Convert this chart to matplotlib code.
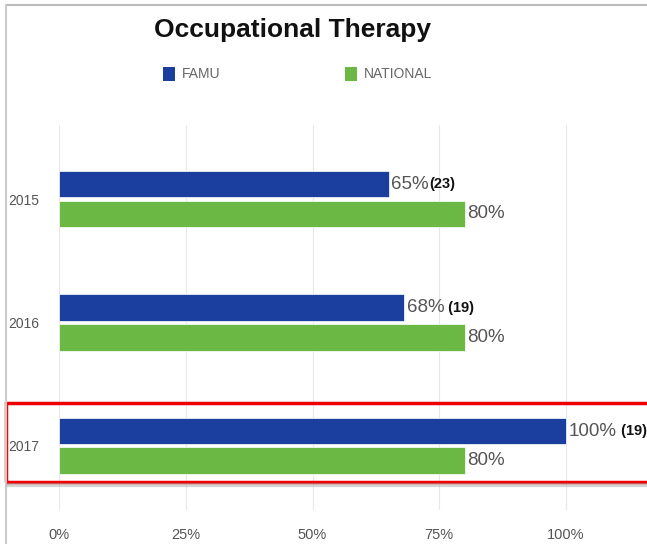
import matplotlib
matplotlib.use('Agg')
import matplotlib.pyplot as plt
from matplotlib.patches import Rectangle
import numpy as np

# data
years = ['2015', '2016', '2017']
famu = [65, 68, 100]
national = [80, 80, 80]
famu_counts = ['(23)', '(19)', '(19)']
xticks = [0, 25, 50, 75, 100]
series = ['FAMU', 'NATIONAL']

blue = '#1b3f9f'
green = '#6bb944'
grey_txt = '#555555'

plt.rcParams['font.family'] = ['Liberation Sans', 'DejaVu Sans']

W, H = 647, 544
fig = plt.figure(figsize=(W / 100, H / 100), dpi=100)

def fx(px):
    return px / W

def fy(py):
    return 1 - py / H

# axes: 0% at x=59, 100% at x=566; plot area from y=125 to y=510
x0, x100 = 59, 566
ax = fig.add_axes([fx(x0), fy(510), 1 - fx(x0), (510 - 125) / H])
xmax = 100 * (W - x0) / (x100 - x0)
ax.set_xlim(0, xmax)
ax.set_ylim(2.52, -0.60)

y = np.arange(len(years))
off = 0.12
bh = 0.215
ax.barh(y - off, famu, height=bh, color=blue, edgecolor='white', linewidth=0.5, zorder=3)
ax.barh(y + off, national, height=bh, color=green, edgecolor='white', linewidth=0.5, zorder=3)

for i in range(len(years)):
    t = ax.annotate(f'{famu[i]}%', (famu[i], y[i] - off), xytext=(2, 0),
                    textcoords='offset points', va='center', ha='left',
                    fontsize=13.5, color=grey_txt)
    ax.annotate(' ' + famu_counts[i] if i > 0 else famu_counts[i],
                xy=(1, 0.5), xycoords=t, va='center', ha='left',
                fontsize=10.5, fontweight='bold', color='#111111')
    ax.annotate(f'{national[i]}%', (national[i], y[i] + off), xytext=(2, 0),
                textcoords='offset points', va='center', ha='left',
                fontsize=13.5, color=grey_txt)

ax.set_xticks(xticks)
ax.set_xticklabels([f'{v}%' for v in xticks], color=grey_txt, fontsize=10.5)
ax.set_yticks(y)
ax.set_yticklabels(years, color=grey_txt, fontsize=10)
ax.tick_params(axis='x', length=0, pad=13)
ax.tick_params(axis='y', length=0, pad=14)
ax.grid(axis='x', color='#e8e8e8', linewidth=0.8, zorder=0)
for s in ax.spines.values():
    s.set_visible(False)

# title
fig.text(fx(293), fy(30), 'Occupational Therapy', ha='center', va='center',
         fontsize=19, fontweight='bold', color='#111111')

# legend
for name, col, lx in zip(series, [blue, green], [163, 345]):
    fig.add_artist(Rectangle((fx(lx), fy(81)), 12 / W, 14 / H, transform=fig.transFigure,
                             facecolor=col, edgecolor='none'))
    fig.text(fx(lx + 19), fy(74), name, ha='left', va='center', fontsize=10, color='#666666')

# screenshot frame
fig.add_artist(plt.Line2D([fx(6), 1], [fy(5), fy(5)], color='#bbbbbb', linewidth=1.5))
fig.add_artist(plt.Line2D([fx(6), fx(6)], [fy(5), 0], color='#cccccc', linewidth=1.5))

# highlight box around 2017
fig.add_artist(plt.Line2D([fx(8), 1], [fy(485), fy(485)], color='#aaaaaa',
                          linewidth=3, alpha=0.5))
fig.add_artist(Rectangle((fx(6), fy(482)), fx(W), (482 - 403) / H, transform=fig.transFigure,
                         fill=False, edgecolor='#ee0000', linewidth=2.5))

fig.savefig('out.png', dpi=100)
